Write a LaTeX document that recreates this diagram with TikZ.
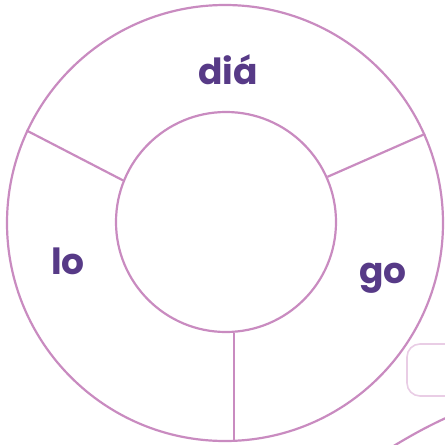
\documentclass[tikz,border=0pt]{standalone}
\usepackage{fontspec}
\setmainfont{Poppins}
\usepackage{tikz}
\usetikzlibrary{positioning, calc}

\definecolor{ringpink}{HTML}{C98BC0}
\definecolor{lightpink}{HTML}{E9CDE5}
\definecolor{syllpurple}{HTML}{573A87}

\tikzset{
    ring/.style={circle, draw=ringpink, line width=2.2pt, inner sep=0pt},
    divider/.style={draw=ringpink, line width=2.2pt},
    syll/.style={text=syllpurple, font=\fontsize{36}{40}\selectfont\bfseries, inner sep=0pt, anchor=base}
}

\begin{document}
\begin{tikzpicture}[x=1pt, y=-1pt]
    \useasboundingbox (0,0) rectangle (445,445);

    % Ring
    \node[ring, minimum size=436pt] (outer) at (225,223) {};
    \node[ring, minimum size=220pt] (inner) at (226,222) {};

    % Dividers
    \draw[divider] (inner.158) -- (outer.155);
    \draw[divider] (inner.24) -- (outer.24);
    \draw[divider] (inner.-86) -- (inner.-86 |- outer.south);

    % Syllables
    \node[syll] (dia) at (228,84) {diá};
    \node[syll] (lo) at (68,274) {lo};
    \node[syll] (go) at (383,283) {go};

    % Cut-off shapes at the corner
    \draw[lightpink, line width=1.6pt, rounded corners=13pt] (470,344) -- (407,344) -- (407,396) -- (470,396);
    \draw[ringpink, line width=2.2pt] (392,447) .. controls (410,436) and (428,426) .. (448,417);
\end{tikzpicture}
\end{document}
